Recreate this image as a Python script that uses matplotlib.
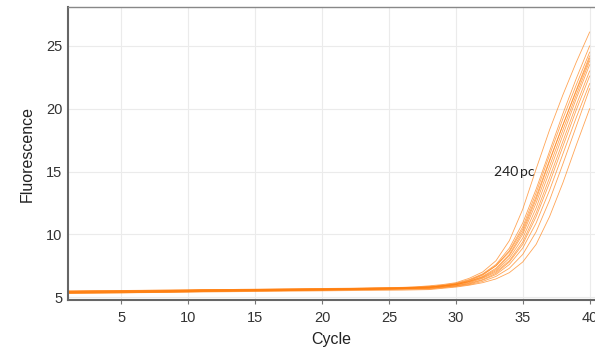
import matplotlib
matplotlib.use("Agg")
import matplotlib.pyplot as plt

plt.rcParams["font.family"] = ["Liberation Sans", "DejaVu Sans"]

cycles = list(range(1, 41))

# fluorescence per cycle, one list per well (cycles 1-27 baseline, 28-40 rise)
well_1 = [5.50, 5.51, 5.52, 5.52, 5.53, 5.54, 5.55, 5.56, 5.57, 5.58, 5.60, 5.61, 5.61, 5.62, 5.63, 5.64, 5.65, 5.66, 5.68, 5.69, 5.70, 5.71, 5.73, 5.74, 5.76, 5.78, 5.82,
          5.90, 6.00, 6.15, 6.50, 7.00, 7.90, 9.50, 12.0, 15.2, 18.3, 21.1, 23.7, 26.1]
well_2 = [5.45, 5.46, 5.47, 5.48, 5.49, 5.50, 5.51, 5.52, 5.54, 5.55, 5.57, 5.58, 5.59, 5.60, 5.61, 5.62, 5.63, 5.64, 5.65, 5.66, 5.67, 5.69, 5.70, 5.72, 5.74, 5.76, 5.80,
          5.85, 5.95, 6.10, 6.40, 6.85, 7.60, 8.90, 10.9, 13.6, 16.6, 19.6, 22.4, 25.0]
well_3 = [5.40, 5.41, 5.42, 5.43, 5.44, 5.45, 5.46, 5.47, 5.49, 5.50, 5.52, 5.53, 5.54, 5.55, 5.56, 5.57, 5.58, 5.59, 5.60, 5.61, 5.63, 5.64, 5.66, 5.67, 5.69, 5.71, 5.75,
          5.80, 5.90, 6.05, 6.30, 6.75, 7.50, 8.70, 10.6, 13.3, 16.3, 19.2, 21.9, 24.5]
well_4 = [5.35, 5.36, 5.37, 5.38, 5.39, 5.40, 5.41, 5.43, 5.44, 5.46, 5.48, 5.49, 5.50, 5.51, 5.52, 5.53, 5.55, 5.56, 5.57, 5.58, 5.60, 5.62, 5.64, 5.66, 5.68, 5.71, 5.75,
          5.80, 5.90, 6.00, 6.25, 6.65, 7.30, 8.40, 10.2, 12.8, 15.8, 18.7, 21.5, 24.2]
well_5 = [5.30, 5.31, 5.32, 5.33, 5.34, 5.36, 5.37, 5.38, 5.40, 5.42, 5.44, 5.45, 5.46, 5.48, 5.49, 5.50, 5.51, 5.53, 5.54, 5.55, 5.57, 5.58, 5.60, 5.62, 5.64, 5.67, 5.71,
          5.75, 5.85, 6.00, 6.25, 6.60, 7.20, 8.30, 10.0, 12.5, 15.4, 18.3, 21.1, 23.8]
well_6 = [5.48, 5.49, 5.50, 5.51, 5.52, 5.53, 5.54, 5.55, 5.56, 5.57, 5.59, 5.60, 5.61, 5.62, 5.62, 5.63, 5.64, 5.65, 5.66, 5.67, 5.68, 5.69, 5.70, 5.72, 5.73, 5.75, 5.78,
          5.80, 5.90, 6.00, 6.20, 6.55, 7.10, 8.10, 9.70, 12.1, 15.0, 17.9, 20.8, 23.5]
well_7 = [5.38, 5.39, 5.40, 5.41, 5.42, 5.43, 5.44, 5.45, 5.47, 5.48, 5.50, 5.51, 5.52, 5.53, 5.54, 5.55, 5.56, 5.57, 5.58, 5.59, 5.60, 5.62, 5.63, 5.65, 5.67, 5.69, 5.72,
          5.75, 5.85, 5.95, 6.15, 6.50, 7.00, 7.90, 9.40, 11.7, 14.5, 17.4, 20.3, 23.0]
well_8 = [5.33, 5.34, 5.35, 5.36, 5.37, 5.38, 5.39, 5.41, 5.42, 5.44, 5.46, 5.47, 5.48, 5.49, 5.50, 5.51, 5.52, 5.54, 5.55, 5.56, 5.57, 5.59, 5.60, 5.62, 5.64, 5.66, 5.68,
          5.70, 5.80, 5.90, 6.10, 6.40, 6.90, 7.80, 9.20, 11.4, 14.1, 17.0, 19.9, 22.6]
well_9 = [5.42, 5.43, 5.44, 5.45, 5.46, 5.47, 5.48, 5.49, 5.50, 5.52, 5.53, 5.54, 5.55, 5.56, 5.57, 5.58, 5.59, 5.60, 5.61, 5.62, 5.63, 5.64, 5.65, 5.66, 5.67, 5.68, 5.69,
          5.70, 5.80, 5.90, 6.05, 6.35, 6.80, 7.60, 8.90, 10.9, 13.5, 16.4, 19.3, 22.0]
well_10 = [5.36, 5.37, 5.38, 5.39, 5.40, 5.41, 5.42, 5.43, 5.44, 5.45, 5.47, 5.48, 5.49, 5.50, 5.51, 5.52, 5.53, 5.54, 5.55, 5.56, 5.57, 5.58, 5.59, 5.60, 5.61, 5.62, 5.63,
           5.65, 5.75, 5.85, 6.00, 6.25, 6.65, 7.30, 8.40, 10.2, 12.7, 15.6, 18.6, 21.6]
well_11 = [5.30, 5.31, 5.32, 5.33, 5.34, 5.35, 5.36, 5.37, 5.38, 5.39, 5.41, 5.42, 5.43, 5.44, 5.45, 5.46, 5.47, 5.48, 5.49, 5.50, 5.51, 5.52, 5.53, 5.54, 5.55, 5.56, 5.58,
           5.60, 5.70, 5.80, 5.95, 6.15, 6.45, 6.95, 7.80, 9.20, 11.4, 14.1, 17.1, 20.0]
well_12 = [5.45, 5.46, 5.47, 5.47, 5.48, 5.49, 5.50, 5.51, 5.53, 5.54, 5.56, 5.57, 5.58, 5.59, 5.60, 5.61, 5.62, 5.63, 5.64, 5.65, 5.66, 5.68, 5.69, 5.71, 5.72, 5.74, 5.77,
           5.80, 5.90, 6.05, 6.35, 6.80, 7.50, 8.60, 10.4, 13.0, 15.9, 18.7, 21.4, 24.0]

wells = [well_1, well_2, well_3, well_4, well_5, well_6,
         well_7, well_8, well_9, well_10, well_11, well_12]

x_ticks = [5, 10, 15, 20, 25, 30, 35, 40]
y_ticks = [5, 10, 15, 20, 25]
label_text = "240\u2009pc"

fig = plt.figure(figsize=(5.95, 3.47), dpi=100)
ax = fig.add_axes([0.114, 0.135, 0.886, 0.845])

for w in wells:
    ax.plot(cycles, w, color="#ff7f0e", lw=0.6, alpha=0.7)

ax.text(35.9, 15, label_text, ha="right", va="center", fontsize=10,
        color="#222222", family=["Lato", "DejaVu Sans"])

ax.set_xlim(1, 40.4)
ax.set_ylim(4.76, 28.1)
ax.set_xticks(x_ticks)
ax.set_yticks(y_ticks)
ax.grid(True, color="#ebebeb", lw=0.8)
ax.set_axisbelow(True)

ax.tick_params(axis="x", length=3, color="#777777", labelsize=10.5, labelcolor="#333333", pad=5)
ax.tick_params(axis="y", length=0, labelsize=10.5, labelcolor="#333333", pad=4)

ax.spines["right"].set_visible(False)
ax.spines["left"].set_color("#666666")
ax.spines["left"].set_linewidth(1.5)
ax.spines["bottom"].set_color("#666666")
ax.spines["bottom"].set_linewidth(1.5)
ax.spines["top"].set_color("#888888")
ax.spines["top"].set_linewidth(1.0)

ax.set_xlabel("Cycle", fontsize=11.5, color="#222222", labelpad=5)
ax.set_ylabel("Fluorescence", fontsize=11.5, color="#222222", labelpad=8)

fig.savefig("out.png", dpi=100)
